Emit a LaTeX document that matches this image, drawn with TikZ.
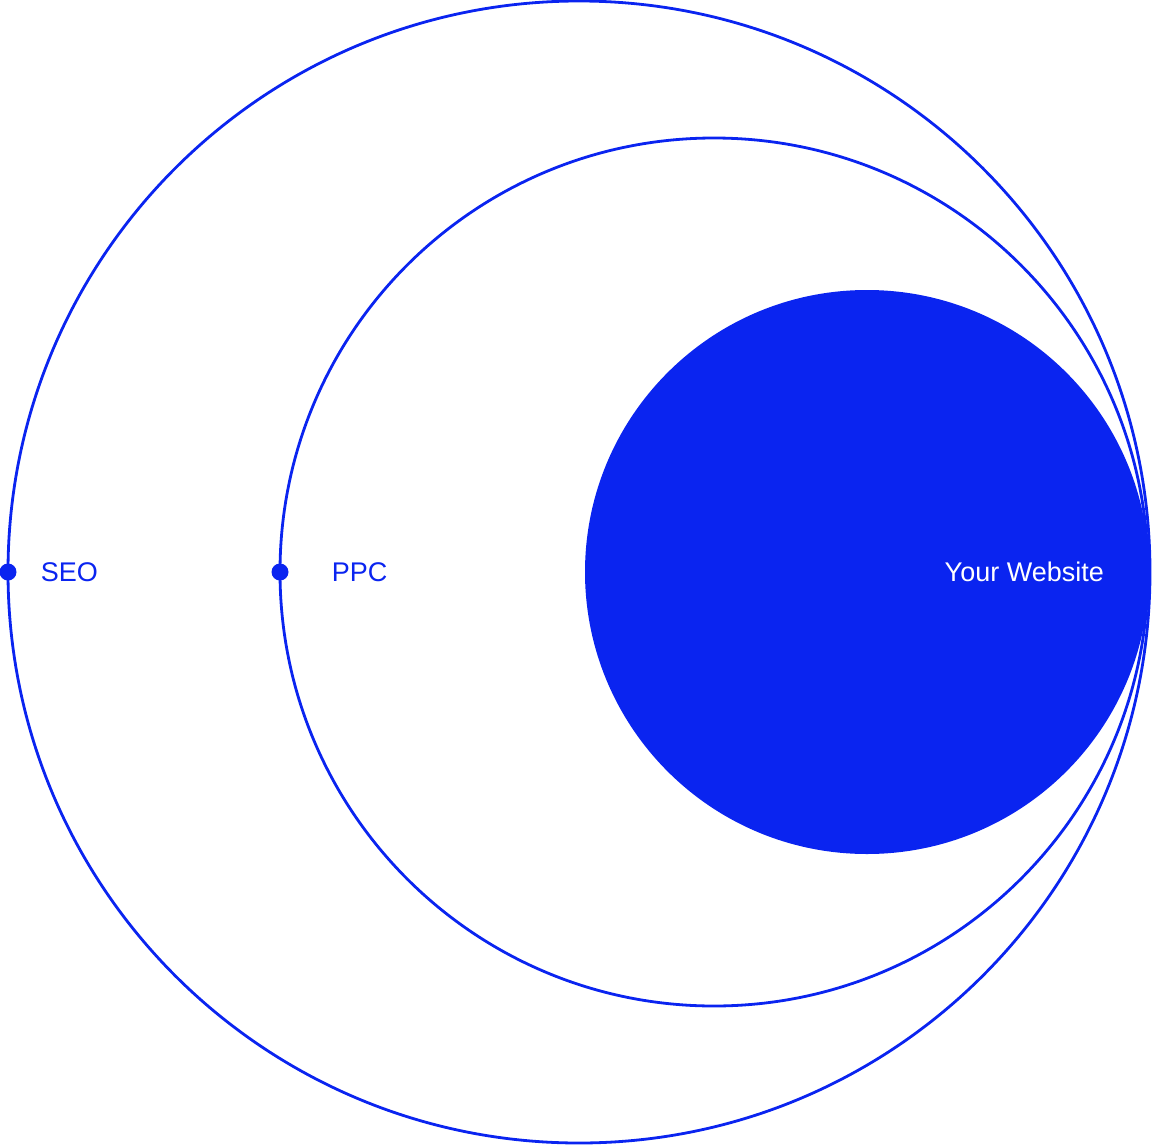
\documentclass[tikz,border=0pt]{standalone}
\usepackage{fontspec}
\setmainfont{Liberation Sans}
\usetikzlibrary{positioning}
\definecolor{webblue}{RGB}{10,36,240}
\tikzset{
  ring/.style={draw=webblue, line width=2.8pt},
  pin/.style={circle, fill=webblue, minimum size=17pt, inner sep=0pt},
  tag/.style={font=\fontsize{27}{32}\selectfont, text=webblue, inner sep=0pt}
}
\begin{document}
\begin{tikzpicture}[x=1pt, y=-1pt]
\useasboundingbox (0,0) rectangle (1152,1146);
\draw[ring] (579,572) circle (571);
\draw[ring] (714,572) circle (434);
\fill[webblue] (867,572) circle (282);

\node[pin, label={[tag, label distance=24pt]right:SEO}](seo) at (8,572) {};
\node[pin, label={[tag, label distance=43pt]right:PPC}](ppc) at (280,572) {};
\node[tag, text=white, anchor=east](site) at (1104,572) {Your Website};
\end{tikzpicture}
\end{document}
